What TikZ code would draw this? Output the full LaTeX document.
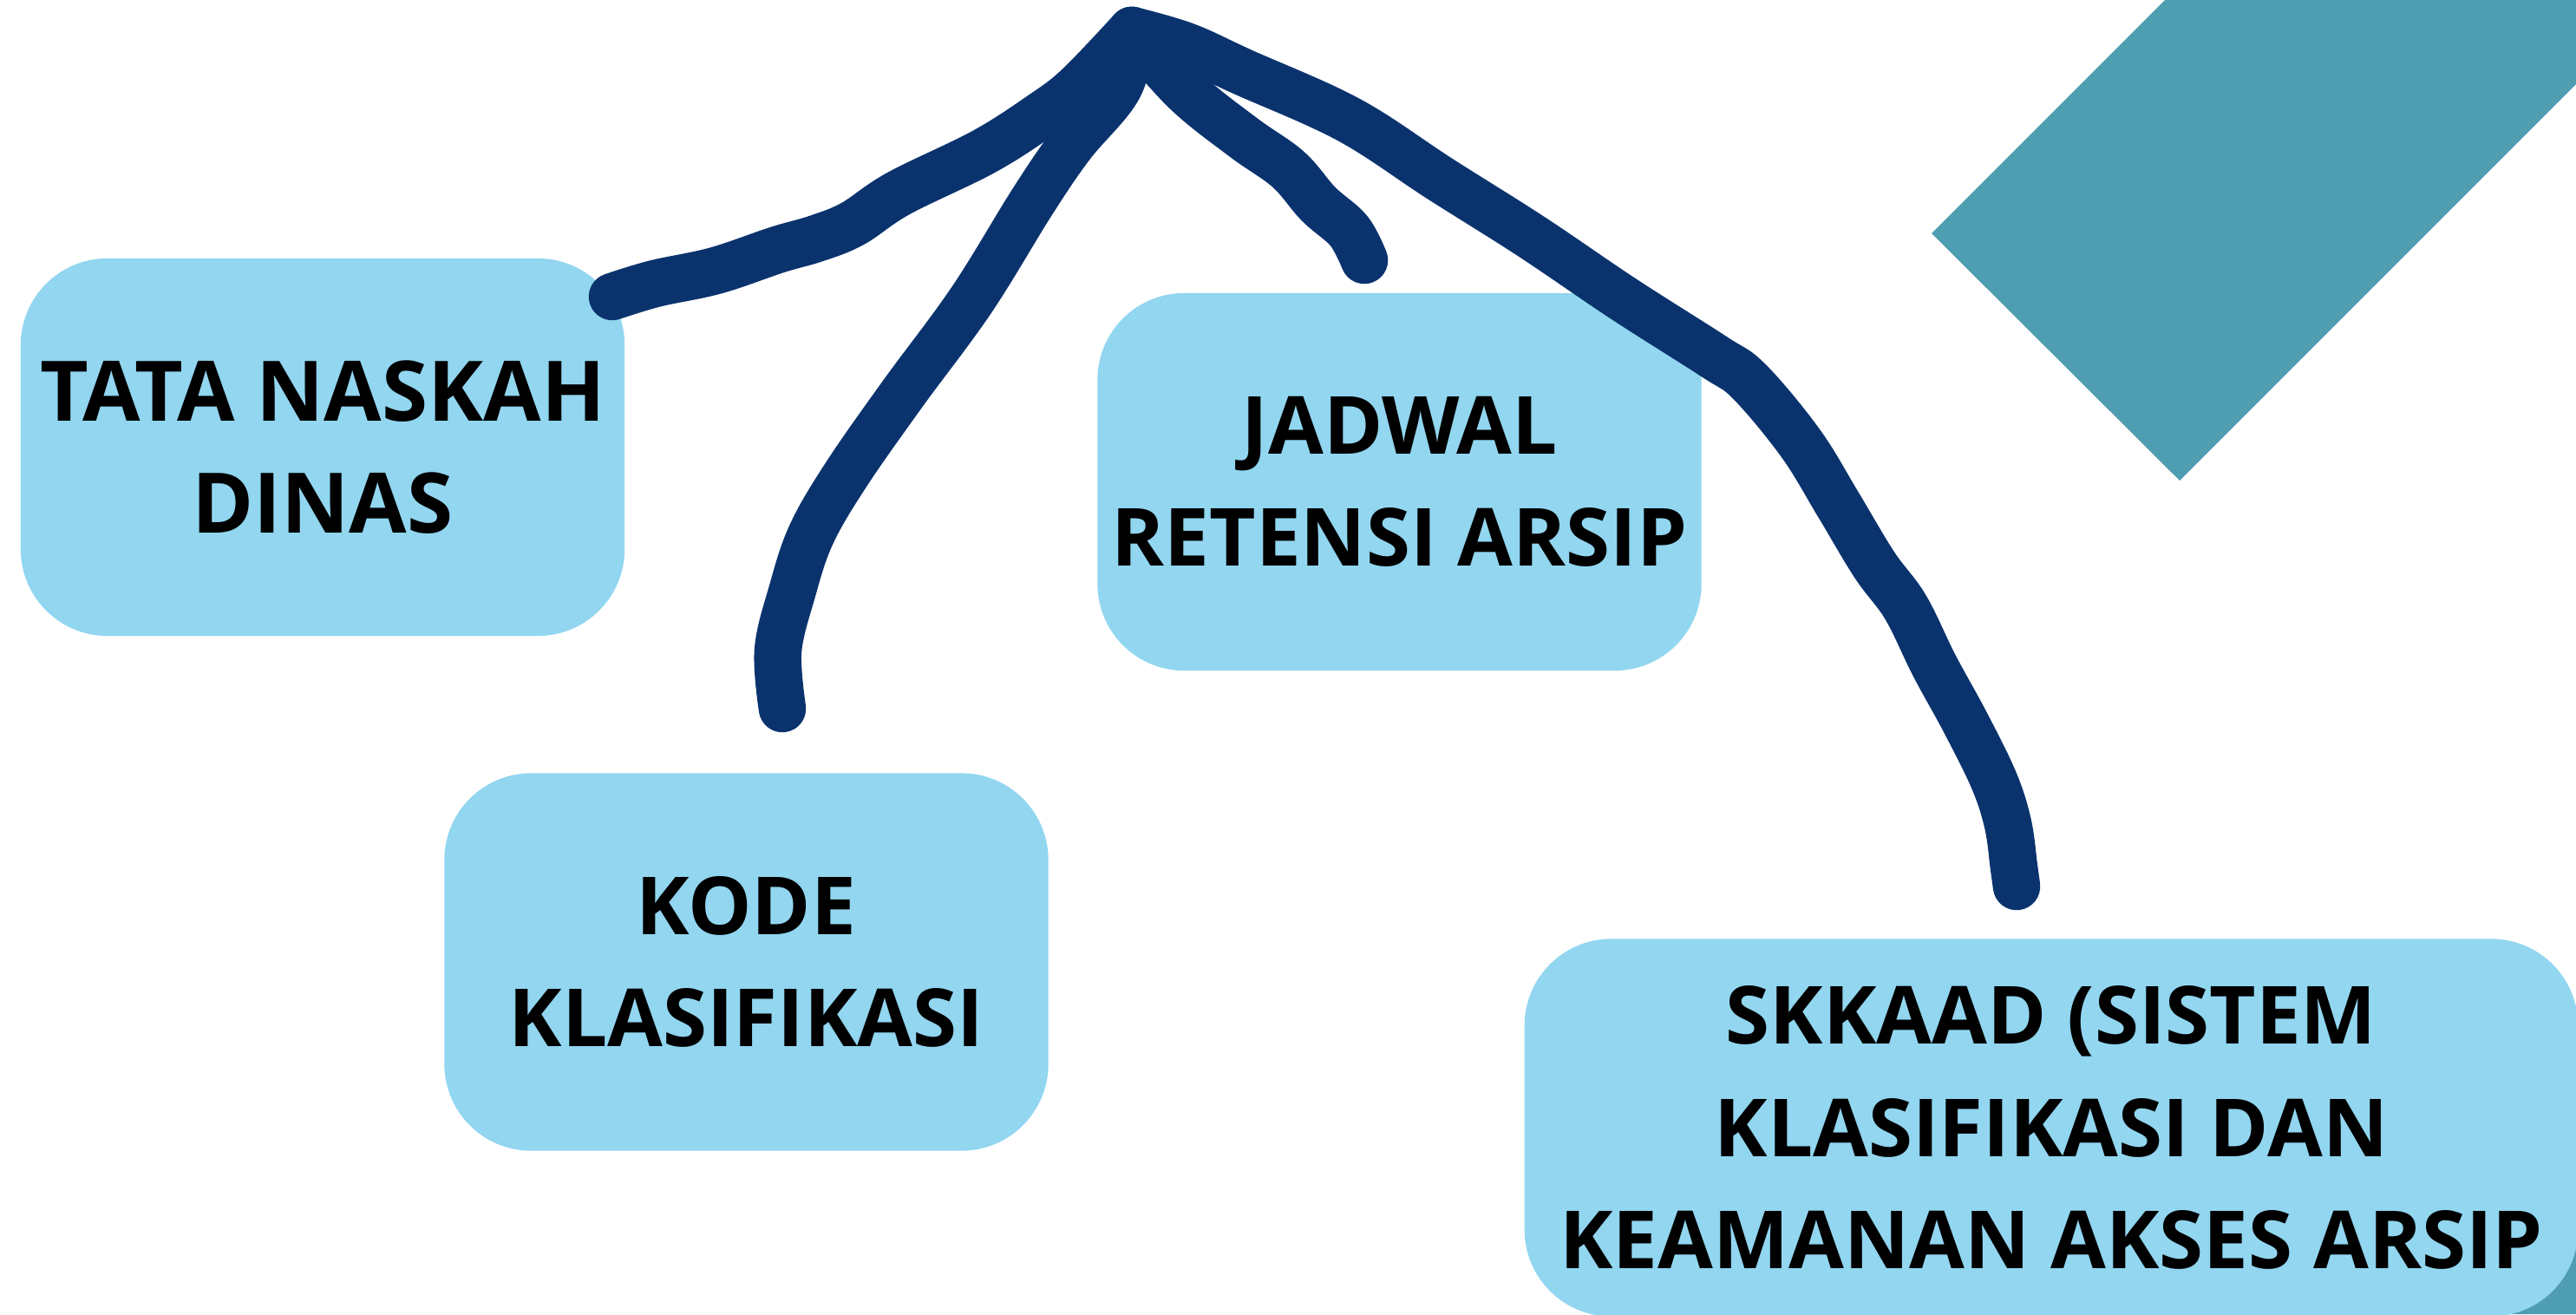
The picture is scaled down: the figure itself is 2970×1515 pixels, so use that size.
\documentclass[tikz,border=0pt]{standalone}
\usepackage{fontspec}
\setmainfont{Open Sans}
\usepackage{tikz}
\definecolor{langit}{RGB}{146,214,240}
\definecolor{tinta}{RGB}{10,51,110}
\definecolor{toska}{RGB}{78,157,177}
\newcommand{\judul}[1]{\fontsize{#1}{36.7}\selectfont\bfseries}

\begin{document}
\begin{tikzpicture}[x=0.01cm, y=-0.01cm,
  kotak/.style={fill=langit, rounded corners=1cm, minimum width=6.96cm, minimum height=4.35cm, inner sep=0pt, align=center, font=\judul{26.3}},
  coret/.style={tinta, line width=15.5pt, line cap=round, line join=round}]
  \useasboundingbox (0,0) rectangle (2970,1515);
  \clip (0,0) rectangle (2970,1515);
  \fill[toska] (2227,269) -- (2496,0) -- (2970,0) -- (2970,97) -- (2513,554) -- cycle;
  \fill[toska] (2780,1515) -- (2970,1325) -- (2970,1515) -- cycle;

  \node[kotak, font=\judul{27.4}] (tnd) at (372,515.5) {TATA NASKAH\\DINAS};
  \node[kotak] (kode) at (860.5,1109) {KODE\\KLASIFIKASI};
  \node[kotak] (jra) at (1613.5,555.5) {JADWAL\\RETENSI ARSIP};
  \node[kotak, minimum width=12.14cm] (skkaad) at (2365,1300) {SKKAAD (SISTEM\\KLASIFIKASI DAN\\KEAMANAN AKSES ARSIP};

  \coordinate (puncak) at (1305,35);
  \coordinate (ujungtnd) at (706,342);
  \coordinate (ujungkode) at (902,817);
  \coordinate (ujungjra) at (1573,300);
  \coordinate (ujungskkaad) at (2325,1022);
  \draw[coret] plot[smooth, tension=.6] coordinates {(puncak) (1243,100) (1200,133) (1134,175) (1036,223) (983,258) (941,275) (896,288) (825,312) (755,327) (ujungtnd)};
  \draw[coret] plot[smooth, tension=.6] coordinates {(puncak) (1290,100) (1235,167) (1190,233) (1120,346) (1040,455) (975,548) (935,617) (913,683) (897,750) (ujungkode)};
  \draw[coret] plot[smooth, tension=.6] coordinates {(puncak) (1367,105) (1433,158) (1485,195) (1520,235) (1555,266) (ujungjra)};
  \draw[coret] plot[smooth, tension=.6] coordinates {(puncak) (1367,53) (1433,83) (1555,138) (1660,206) (1766,273) (1871,344) (1976,411) (2017,440) (2076,511) (2119,581) (2161,651) (2197,700) (2230,767) (2266,833) (2299,900) (2315,950) (2322,1000) (ujungskkaad)};
\end{tikzpicture}
\end{document}
